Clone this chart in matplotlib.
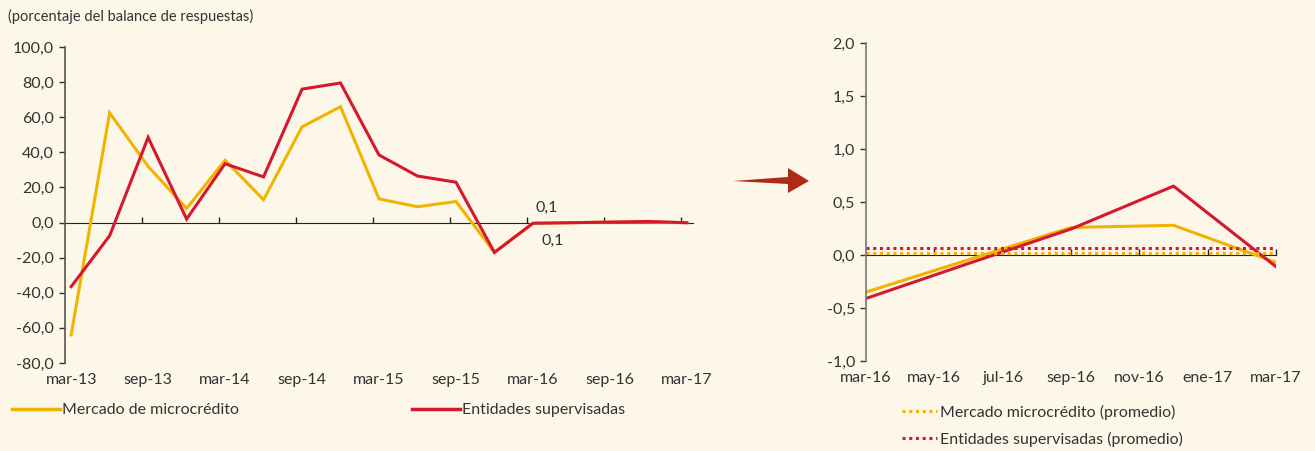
import numpy as np
import matplotlib
matplotlib.use("Agg")
import matplotlib.pyplot as plt
from matplotlib.lines import Line2D
from matplotlib.patches import Polygon
from matplotlib.ticker import FuncFormatter

plt.rcParams['font.family'] = ['Lato', 'DejaVu Sans']

# datos trimestrales mar-13 .. mar-17
quarters = ['mar-13', 'jun-13', 'sep-13', 'dic-13', 'mar-14', 'jun-14', 'sep-14', 'dic-14',
            'mar-15', 'jun-15', 'sep-15', 'dic-15', 'mar-16', 'jun-16', 'sep-16', 'dic-16', 'mar-17']
micro = [-64, 62.5, 32, 8, 35.5, 13, 54.5, 66, 13.5, 9, 12, -17, -0.35, -0.05, 0.26, 0.28, -0.07]
superv = [-36.5, -7.5, 48.5, 2, 33.5, 26, 76, 79.5, 38.5, 26.5, 23, -17, -0.41, -0.08, 0.25, 0.65, -0.11]
left_labels = ['mar-13', 'sep-13', 'mar-14', 'sep-14', 'mar-15', 'sep-15', 'mar-16', 'sep-16', 'mar-17']

# detalle mensual mar-16 .. mar-17 (puntos trimestrales)
months = ['mar-16', 'may-16', 'jul-16', 'sep-16', 'nov-16', 'ene-17', 'mar-17']
detail_pos = [0, 3, 6, 9, 12]
micro_det = [-0.35, -0.045, 0.26, 0.28, -0.07]
superv_det = [-0.41, -0.08, 0.245, 0.65, -0.11]
micro_avg = 0.02
superv_avg = 0.07
avg_label = '0,1'

bg = '#FDF7EA'
yellow = '#F0B400'
red = '#D6182F'
txt = '#333333'

W, H = 1315, 451
fig = plt.figure(figsize=(W / 100, H / 100), dpi=100, facecolor=bg)

def frac(x0, y0, x1, y1):
    return [x0 / W, 1 - y1 / H, (x1 - x0) / W, (y1 - y0) / H]

comma = FuncFormatter(lambda v, p: ('%.1f' % v).replace('.', ','))

# ---- panel izquierdo
ax = fig.add_axes(frac(65, 47, 693, 363))
ax.set_facecolor(bg)
x = np.arange(len(quarters))
ax.plot(x, micro, color=yellow, lw=2.2, solid_joinstyle='miter')
ax.plot(x, superv, color=red, lw=2.2, solid_joinstyle='miter')
ax.set_xlim(-0.16, 16.16)
ax.set_ylim(-80, 100)
ax.set_yticks(np.arange(-80, 101, 20))
ax.yaxis.set_major_formatter(comma)
ax.set_xticks(np.arange(0, 17, 2))
ax.set_xticklabels(left_labels)
ax.tick_params(axis='x', length=0, pad=7, labelsize=11.5, colors=txt)
ax.tick_params(axis='y', length=4, width=1, direction='out', labelsize=11.5, colors=txt, pad=4)
for s in ['top', 'right', 'bottom']:
    ax.spines[s].set_visible(False)
ax.spines['left'].set_color('#555555')
ax.spines['left'].set_linewidth(1.2)
sec = ax.secondary_xaxis(80 / 180)
sec.set_xticks(np.arange(1.84, 16, 2))
sec.tick_params(axis='x', direction='in', length=4, width=1, labelbottom=False, colors='#222222')
sec.spines['bottom'].set_color('#222222')
ax.annotate(avg_label, (12, 0), xytext=(2, 8), textcoords='offset points', fontsize=11.5, color=txt)
ax.annotate(avg_label, (12, 0), xytext=(6, -16), textcoords='offset points', fontsize=11.5, color=txt)

fig.text(8 / W, 1 - 16 / H, '(porcentaje del balance de respuestas)', fontsize=10.5, color=txt, va='center')

# ---- panel derecho
ax2 = fig.add_axes(frac(866, 43, 1276, 361))
ax2.set_facecolor(bg)
ax2.plot(detail_pos, micro_det, color=yellow, lw=2.2)
ax2.plot(detail_pos, superv_det, color=red, lw=2.2)
ax2.plot([0, 12], [micro_avg, micro_avg], color=yellow, lw=2.2, dashes=(1, 1.2))
ax2.plot([0, 12], [superv_avg, superv_avg], color=red, lw=2.2, dashes=(1, 1.2))
ax2.set_xlim(0, 12)
ax2.set_ylim(-1, 2)
ax2.set_yticks(np.arange(-1, 2.01, 0.5))
ax2.yaxis.set_major_formatter(comma)
ax2.set_xticks(np.arange(0, 13, 2))
ax2.set_xticklabels(months)
ax2.tick_params(axis='x', length=0, pad=7, labelsize=11.5, colors=txt)
ax2.tick_params(axis='y', length=4, width=1, direction='out', labelsize=11.5, colors=txt, pad=4)
for s in ['top', 'right', 'bottom']:
    ax2.spines[s].set_visible(False)
ax2.spines['left'].set_color('#777777')
ax2.spines['left'].set_linewidth(1.2)
sec2 = ax2.secondary_xaxis(1 / 3)
sec2.set_xticks(np.arange(2, 13, 2))
sec2.tick_params(axis='x', direction='in', length=4, width=1, labelbottom=False, colors='#222222')
sec2.spines['bottom'].set_color('#222222')

# ---- flecha
pts = [(733, 181), (788, 177), (788, 168), (809, 181), (788, 193), (788, 184)]
arrow = Polygon([(px / W, 1 - py / H) for px, py in pts], closed=True,
                transform=fig.transFigure, color='#B02A17', lw=0)
fig.patches.append(arrow)

# ---- leyendas
def add_leg(handle, label, xpx, ypx, hl):
    lg = fig.legend([handle], [label], loc='center left', bbox_to_anchor=(xpx / W, 1 - ypx / H),
                    frameon=False, fontsize=11.5, handlelength=hl, handletextpad=0.15,
                    borderpad=0, borderaxespad=0, labelcolor=txt)
    return lg

add_leg(Line2D([], [], color=yellow, lw=2.5), 'Mercado de microcrédito', 12, 410, 3.0)
add_leg(Line2D([], [], color=red, lw=2.5), 'Entidades supervisadas', 412, 410, 3.0)
add_leg(Line2D([], [], color=yellow, lw=2.2, dashes=(1, 1.2)), 'Mercado microcrédito (promedio)', 902, 412, 2.2)
add_leg(Line2D([], [], color=red, lw=2.2, dashes=(1, 1.2)), 'Entidades supervisadas (promedio)', 902, 439, 2.2)

fig.savefig('out.png', dpi=100, facecolor=bg)
